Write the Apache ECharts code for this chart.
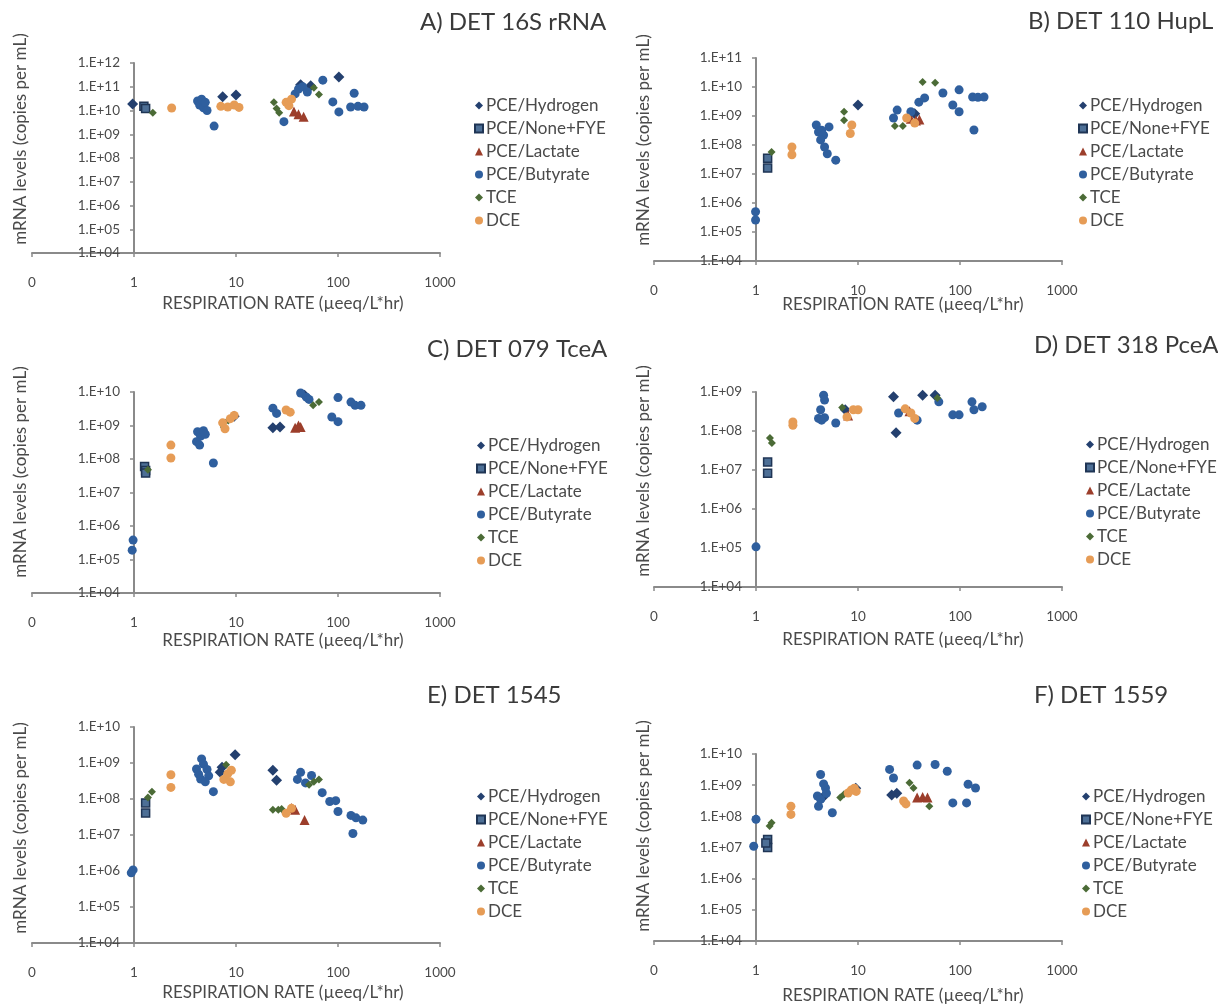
<!DOCTYPE html>
<html><head><meta charset="utf-8">
<script src="https://cdn.jsdelivr.net/npm/echarts@6/dist/echarts.min.js"></script>
<style>html,body{margin:0;padding:0;background:#fff}#c{width:1218px;height:1006px}</style>
</head><body><div id="c"></div>
<script>
// ---------- data ----------
const seriesNames = ['PCE/Hydrogen','PCE/None+FYE','PCE/Lactate','PCE/Butyrate','TCE','DCE'];
const panelTitles = ['A) DET 16S rRNA','B) DET 110 HupL','C) DET 079 TceA','D) DET 318 PceA','E) DET 1545','F) DET 1559'];
const xAxisName = 'RESPIRATION RATE (µeeq/L*hr)';
const yAxisName = 'mRNA levels (copies per mL)';
const xMin = 0.1, xMax = 1000;
const yMin = 1e4;
const yMaxes = [1e12, 1e11, 1e10, 1e9, 1e10, 1e10];

// Panel A
const A_hydrogen = [[0.97,1.9e10],[7.4,3.8e10],[10,4.5e10],[43,1.2e11],[54,1.1e11],[102,2.6e11]];
const A_noneFYE = [[1.25,1.5e10],[1.3,1.2e10]];
const A_lactate = [[37,9e9],[41,7e9],[46,5.5e9]];
const A_butyrate = [[4.2,2.5e10],[4.4,1.7e10],[4.6,3e10],[4.8,1.3e10],[5.0,2.2e10],[5.2,1e10],[6.1,2.2e9],[29.5,3.4e9],[38,5e10],[41,8e10],[45,1e11],[50,6e10],[71,1.9e11],[89,2.3e10],[102,8.7e9],[133,1.4e10],[144,5.3e10],[157,1.5e10],[180,1.4e10]];
const A_tce = [[1.53,8e9],[23.5,2.2e10],[25,1.2e10],[26.5,8e9],[58,9e10],[65,4.7e10]];
const A_dce = [[2.34,1.27e10],[7.1,1.5e10],[8.3,1.4e10],[9.6,1.7e10],[10.7,1.35e10],[31,2.2e10],[35,3e10],[33,1.6e10]];

// Panel B
const B_hydrogen = [[10,2.4e9],[36,1.2e9]];
const B_noneFYE = [[1.3,3.5e7],[1.3,1.6e7]];
const B_lactate = [[33,8e8],[37,7e8],[40,7.5e8]];
const B_butyrate = [[0.99,5e5],[0.99,2.6e5],[3.9,4.9e8],[4.1,2.8e8],[4.4,3.2e8],[4.6,2.2e8],[4.3,1.5e8],[4.7,8.5e7],[5.0,5e7],[5.2,4.2e8],[6.05,3e7],[22.3,8.5e8],[24.2,1.6e9],[33,1.4e9],[39.5,3e9],[45,4.2e9],[68,6.2e9],[85,2.4e9],[98,1.4e9],[98,8e9],[137,3.3e8],[133,4.5e9],[150,4.4e9],[172,4.5e9]];
const B_tce = [[1.42,5.7e7],[7.3,1.4e9],[7.3,7.2e8],[23,4.5e8],[27.5,4.5e8],[43,1.5e10],[57,1.4e10]];
const B_dce = [[2.25,8.5e7],[2.25,4.6e7],[8.7,4.9e8],[8.4,2.5e8],[30,8.5e8],[36,5.7e8]];

// Panel C
const C_hydrogen = [[9.6,1.9e9],[23,8.5e8],[27,9e8],[47,8e9]];
const C_noneFYE = [[1.27,6e7],[1.3,4.5e7],[1.3,3.8e7]];
const C_lactate = [[38,8.5e8],[43,9e8],[41,1e9]];
const C_butyrate = [[0.98,3.8e5],[0.96,1.9e5],[4.2,6.5e8],[4.5,4.8e8],[4.1,3.3e8],[4.4,2.6e8],[4.8,7e8],[5.0,5.5e8],[6.0,7.6e7],[23,3.3e9],[25,2.3e9],[43,9.3e9],[49,7e9],[52,6e9],[100,6.8e9],[87,1.8e9],[100,1.3e9],[134,5e9],[147,4e9],[168,4e9]];
const C_tce = [[1.37,4.8e7],[8.4,1.4e9],[57,4e9],[65,5e9],[7.6,9e8]];
const C_dce = [[2.3,2.6e8],[2.3,1.07e8],[7.4,1.2e9],[7.8,8e8],[8.8,1.6e9],[9.6,2e9],[31,2.9e9],[34,2.5e9]];

// Panel D
const D_hydrogen = [[22.3,7.6e8],[23.6,9e7],[43,8.3e8],[57,8.3e8],[7.5,3.5e8]];
const D_noneFYE = [[1.3,1.6e7],[1.3,8.3e6]];
const D_lactate = [[32,3.2e8],[8,2.5e8]];
const D_butyrate = [[1.0,1.07e5],[4.6,8.3e8],[4.7,6.2e8],[4.1,2.1e8],[4.4,1.9e8],[4.7,2.2e8],[4.3,3.5e8],[6.05,1.6e8],[25,2.9e8],[38,1.9e8],[62,5.6e8],[85,2.6e8],[98,2.6e8],[131,5.6e8],[137,3.5e8],[165,4.2e8]];
const D_tce = [[1.37,6.6e7],[1.43,4.9e7],[7,4e8],[9,3.5e8],[60,7e8]];
const D_dce = [[2.3,1.7e8],[2.3,1.4e8],[7.8,2.3e8],[9,3.5e8],[10,3.5e8],[29,3.7e8],[33,2.9e8],[36,2.1e8]];

// Panel E
const E_hydrogen = [[7.3,7.6e8],[9.8,1.7e9],[23,6.3e8],[25,3.3e8],[7.0,5.5e8]];
const E_noneFYE = [[1.3,7.8e7],[1.3,4.1e7]];
const E_lactate = [[35,5.6e7],[38,5e7],[47,2.6e7]];
const E_butyrate = [[0.98,1.07e6],[0.94,8.9e5],[4.6,1.3e9],[4.8,9.3e8],[4.1,6.8e8],[5.2,6.6e8],[4.3,4.9e8],[5.4,4.4e8],[4.5,3.6e8],[5.0,3e8],[6.0,1.6e8],[40,3.5e8],[43,5.5e8],[48,2.8e8],[55,4.5e8],[70,1.5e8],[83,8.5e7],[95,9e7],[100,4.5e7],[134,3.5e7],[150,3e7],[175,2.6e7],[140,1.1e7]];
const E_tce = [[1.37,1.1e8],[1.5,1.6e8],[23,5e7],[26,5e7],[28,5.3e7],[58,3e8],[65,3.5e8],[52,2.5e8],[8,9e8]];
const E_dce = [[2.3,4.7e8],[2.3,2.1e8],[7.6,3.5e8],[8.3,5e8],[9,6.3e8],[8.8,3e8],[31,4e7],[35,5.5e7]];

// Panel F
const F_hydrogen = [[21.4,4.8e8],[24,5.5e8],[4.5,4e8],[9.5,8e8]];
const F_noneFYE = [[1.3,1.8e7],[1.3,1.0e7],[1.25,1.4e7]];
const F_lactate = [[38,4e8],[43,4.2e8],[48,4e8]];
const F_butyrate = [[1.0,8e7],[0.95,1.1e7],[4.3,2.2e9],[4.6,1.1e9],[4.8,8.1e8],[4.0,4.5e8],[4.3,3.5e8],[4.1,2.1e8],[4.9,5.5e8],[5.6,1.3e8],[20.4,3.2e9],[22.3,1.7e9],[38,4.4e9],[57,4.6e9],[75,2.8e9],[85,2.7e8],[116,2.7e8],[120,1.07e9],[142,8.1e8]];
const F_tce = [[1.36,4.9e7],[1.42,6.2e7],[6.7,4e8],[7.3,5.1e8],[32,1.2e9],[35,8.1e8],[50,2.1e8]];
const F_dce = [[2.2,2.1e8],[2.2,1.15e8],[8,5.6e8],[8.6,7e8],[9.2,8e8],[9.6,6.3e8],[28,3.1e8],[29.5,2.5e8]];

const panelData = [
  [A_hydrogen, A_noneFYE, A_lactate, A_butyrate, A_tce, A_dce],
  [B_hydrogen, B_noneFYE, B_lactate, B_butyrate, B_tce, B_dce],
  [C_hydrogen, C_noneFYE, C_lactate, C_butyrate, C_tce, C_dce],
  [D_hydrogen, D_noneFYE, D_lactate, D_butyrate, D_tce, D_dce],
  [E_hydrogen, E_noneFYE, E_lactate, E_butyrate, E_tce, E_dce],
  [F_hydrogen, F_noneFYE, F_lactate, F_butyrate, F_tce, F_dce]
];

// ---------- layout & style ----------
const FONT = 'Lato, "Open Sans", sans-serif';
const AXIS_COLOR = '#8a8a8a';
const TEXT_COLOR = '#4a4a4a';
// [left, top, width, height] of each plot (x from 0.1 to 1000, y from 1E+04 to max)
const gridRects = [
  [32, 63, 408, 190], [654, 58, 408, 203],
  [32, 392, 408, 201], [654, 392, 408, 195],
  [32, 727, 408, 216], [654, 754, 408, 187]
];
const titlePos = [[420, 10], [1028, 9], [427, 337], [1034, 333], [427, 683], [1034, 683]];
const legendPos = [[474, 97], [1078, 97], [476, 437], [1085, 436], [476, 788], [1081, 788]];
const yNamePos = [[21, 139], [644, 140], [21, 472], [644, 471], [21, 828], [644, 826]];
const xNamePos = [[283, 304], [903, 305], [283, 641], [903, 640], [283, 993], [903, 996]];

const seriesStyles = [
  {symbol: 'diamond', size: 11, color: '#24406f', border: null},
  {symbol: 'rect', size: 8, color: '#4d6f96', border: '#1f3555'},
  {symbol: 'triangle', size: 10, color: '#9c3e2b', border: null},
  {symbol: 'circle', size: 9, color: '#2f5f9e', border: null},
  {symbol: 'diamond', size: 8, color: '#4b6b36', border: null},
  {symbol: 'circle', size: 9, color: '#e69c56', border: null}
];

function yLabel(v) {
  const e = Math.round(Math.log10(v));
  return '1.E+' + (e < 10 ? '0' : '') + e;
}
function xLabel(v) {
  return v < 0.5 ? '0' : String(Math.round(v));
}

const option = {
  backgroundColor: '#ffffff',
  animation: false,
  textStyle: {fontFamily: FONT},
  title: [], grid: [], xAxis: [], yAxis: [], legend: [], series: [], graphic: []
};

panelData.forEach((sets, p) => {
  const r = gridRects[p];
  option.grid.push({left: r[0], top: r[1], width: r[2], height: r[3], containLabel: false, outerBoundsMode: 'none'});
  option.title.push({
    text: panelTitles[p], left: titlePos[p][0], top: titlePos[p][1], padding: 0,
    textStyle: {fontFamily: FONT, fontSize: 24, fontWeight: 'normal', color: '#3a3a3a'}
  });
  const axisLine = {show: true, onZero: false, lineStyle: {color: AXIS_COLOR, width: 2}};
  option.xAxis.push({
    type: 'log', logBase: 10, gridIndex: p, min: xMin, max: xMax,
    axisLine: axisLine,
    axisTick: {show: true, length: 4, lineStyle: {color: AXIS_COLOR, width: 1.5}},
    minorTick: {show: false}, splitLine: {show: false}, minorSplitLine: {show: false},
    axisLabel: {formatter: xLabel, color: TEXT_COLOR, fontSize: 13.5, fontFamily: FONT, margin: 23, showMinLabel: true, showMaxLabel: true}
  });
  option.yAxis.push({
    type: 'log', logBase: 10, gridIndex: p, min: yMin, max: yMaxes[p], offset: -102,
    axisLine: axisLine,
    axisTick: {show: true, length: 4, lineStyle: {color: AXIS_COLOR, width: 1.5}},
    minorTick: {show: false}, splitLine: {show: false}, minorSplitLine: {show: false},
    axisLabel: {formatter: yLabel, color: TEXT_COLOR, fontSize: 13.5, fontFamily: FONT, margin: 14, showMinLabel: true, showMaxLabel: true}
  });
  option.legend.push({
    orient: 'vertical', left: legendPos[p][0], top: legendPos[p][1],
    itemWidth: 8, itemHeight: 8, itemGap: 6, padding: 0,
    selectedMode: false,
    textStyle: {fontFamily: FONT, fontSize: 17, lineHeight: 17, color: TEXT_COLOR, padding: [0, 0, 0, -2]},
    data: seriesNames
  });
  sets.forEach((d, s) => {
    const st = seriesStyles[s];
    option.series.push({
      type: 'scatter', name: seriesNames[s], xAxisIndex: p, yAxisIndex: p,
      symbol: st.symbol, symbolSize: st.size,
      itemStyle: {color: st.color, borderColor: st.border || st.color, borderWidth: st.border ? 1.5 : 0, opacity: 1},
      data: d
    });
  });
  option.graphic.push({
    type: 'text', x: yNamePos[p][0], y: yNamePos[p][1], rotation: Math.PI / 2,
    style: {text: yAxisName, font: '17px ' + FONT, fill: TEXT_COLOR, align: 'center', verticalAlign: 'middle', textAlign: 'center', textVerticalAlign: 'middle'}
  });
  option.graphic.push({
    type: 'text', x: xNamePos[p][0], y: xNamePos[p][1],
    style: {text: xAxisName, font: '17px ' + FONT, fill: TEXT_COLOR, align: 'center', verticalAlign: 'middle', textAlign: 'center', textVerticalAlign: 'middle'}
  });
});

const chart = echarts.init(document.getElementById('c'), null, {renderer: 'canvas'});
chart.setOption(option);
</script>
</body></html>
